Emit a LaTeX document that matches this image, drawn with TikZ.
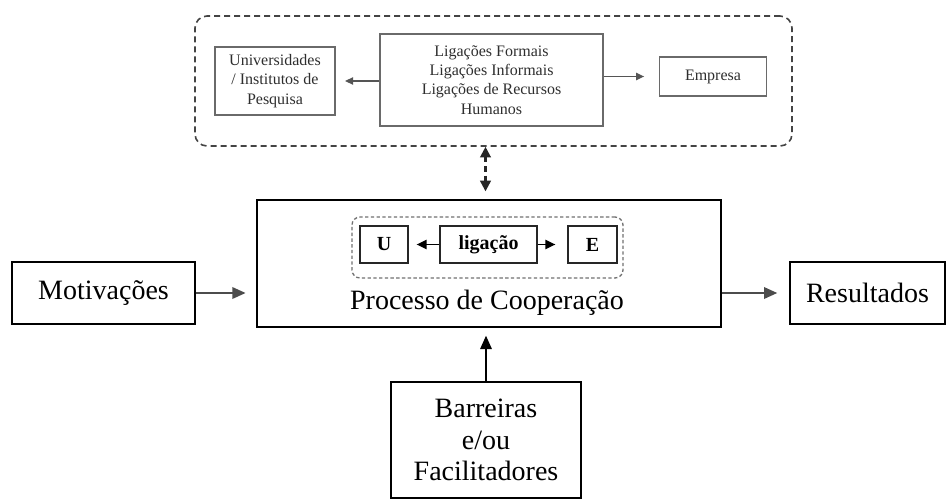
\documentclass[tikz,border=0pt]{standalone}
\usepackage{fontspec}
\setmainfont{Liberation Serif}
\usetikzlibrary{arrows.meta,calc}
\definecolor{topline}{HTML}{6A6A6A}
\definecolor{toptext}{HTML}{2E2E2E}
\definecolor{dashgray}{HTML}{444444}
\definecolor{innergray}{HTML}{707070}
\tikzset{
  box/.style={draw=black, line width=1pt, rectangle, inner sep=0pt, align=center, anchor=center},
  topbox/.style={draw=topline, line width=1.1pt, rectangle, inner sep=0pt, align=center, text=toptext,
     font=\fontsize{12}{14.5}\selectfont},
  smallbox/.style={draw=black!85, line width=1pt, rectangle, inner sep=0pt, align=center,
     minimum height=27.75pt, font=\fontsize{15}{17}\selectfont\bfseries},
  bigtxt/.style={font=\fontsize{21}{23.5}\selectfont},
  toparrow/.style={draw=topline!80!black, line width=1pt, -{Triangle[length=6pt,width=5.5pt]}},
  midarrow/.style={draw=black, line width=1.1pt, -{Triangle[length=7.5pt,width=7pt]}},
  bigarrow/.style={draw=black!70, line width=1.8pt, -{Triangle[length=10pt,width=8.5pt]}},
}
\begin{document}
\begin{tikzpicture}[x=0.75pt,y=-0.75pt]
\useasboundingbox (0,0) rectangle (948,499);
% outer dashed group
\node[draw=dashgray, line width=1.2pt, dash pattern=on 4.5pt off 3pt, rounded corners=9pt,
      minimum width=447.75pt, minimum height=97.5pt, inner sep=0pt] (outer) at (493.5,81) {};
\node[topbox, minimum width=90pt, minimum height=51pt] (univ) at (275,81)
  {Universidades\\/ Institutos de\\Pesquisa};
\node[topbox, minimum width=167.25pt, minimum height=69pt] (lig) at (491.5,80)
  {Ligações Formais\\Ligações Informais\\Ligações de Recursos\\Humanos};
\node[topbox, minimum width=80.25pt, minimum height=29.25pt] (emp) at (713,76.5) {Empresa};
\draw[toparrow, shorten >=7pt] (lig.west |- univ.east) -- (univ.east);
\draw[toparrow, shorten >=11pt] (lig.east |- emp.west) -- (emp.west);
% main process box
\node[box, minimum width=348pt, minimum height=95.25pt] (main) at (489,263.5) {};
\node[draw=innergray, line width=1pt, dash pattern=on 2.5pt off 1.8pt, rounded corners=6pt,
      minimum width=203.25pt, minimum height=45.75pt, inner sep=0pt] (inner) at (487.5,247.5) {};
\node[smallbox, minimum width=36pt] (u) at (384,244.5) {U};
\node[smallbox, minimum width=72.75pt] (lg) at (488.5,244.5) {ligação};
\node[smallbox, minimum width=36.75pt] (e) at (592.5,244.5) {E};
\draw[midarrow, shorten >=6pt] (lg.west) -- (u.east);
\draw[midarrow, shorten >=9pt] (lg.east) -- (e.west);
\node[bigtxt, inner sep=0pt] (proc) at (487,303) {Processo de Cooperação};
% dashed double arrow
\draw[draw=black!85, line width=1.6pt, dash pattern=on 4pt off 3pt,
      {Triangle[length=8pt,width=8pt]}-{Triangle[length=8pt,width=8pt]}, shorten >=6pt]
  ([xshift=-6pt]outer.south) -- ([xshift=-6pt]outer.south |- main.north);
% side boxes
\node[box, bigtxt, minimum width=137.25pt, minimum height=46.5pt] (mot) at (103.5,293) {Motivações};
\node[box, bigtxt, minimum width=116.25pt, minimum height=46.5pt] (res) at (867.5,293) {Resultados};
\node[box, bigtxt, minimum width=142.5pt, minimum height=87pt] (bar) at (486,440)
  {Barreiras\\e/ou\\Facilitadores};
\draw[bigarrow, shorten >=8pt] (mot.east) -- (mot.east -| main.west);
\draw[bigarrow, shorten >=9pt] (main.east |- res.west) -- (res.west);
\draw[draw=black, line width=1.5pt, -{Triangle[length=10pt,width=8.5pt]}, shorten >=6pt]
  (bar.north) -- (bar.north |- main.south);
\end{tikzpicture}
\end{document}
